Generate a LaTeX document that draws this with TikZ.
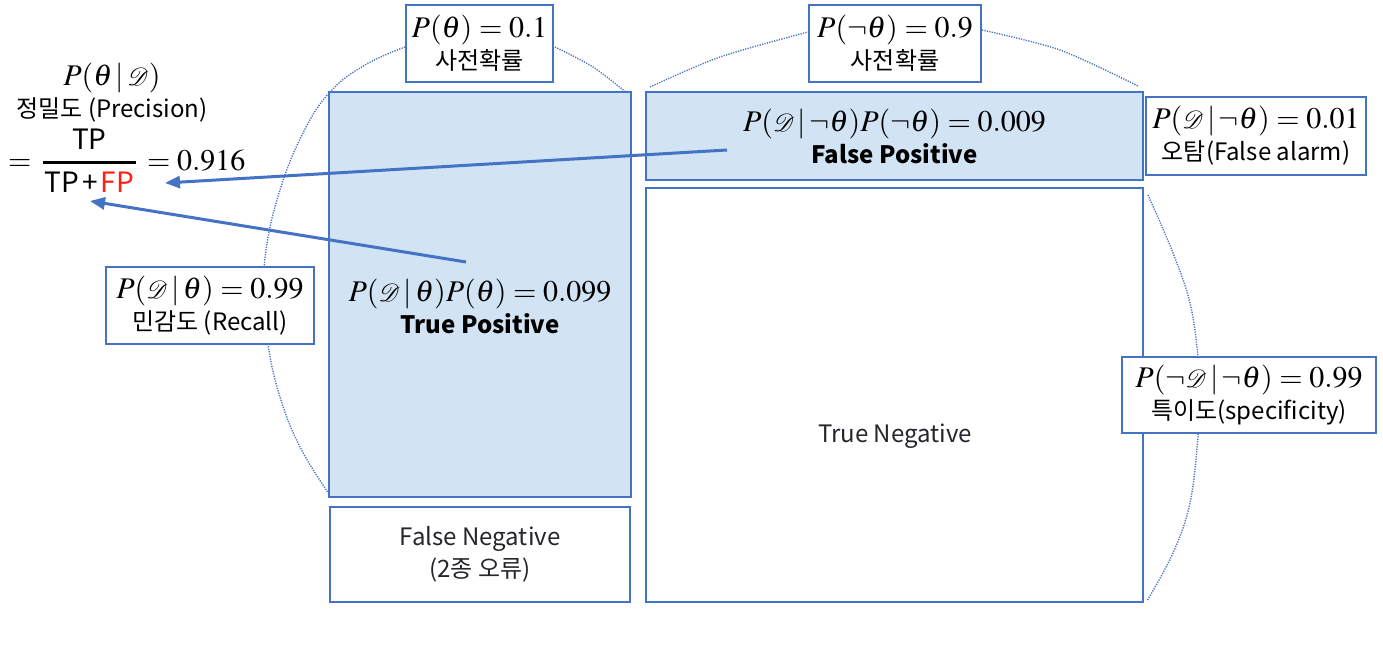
\documentclass[tikz,border=0pt]{standalone}
\usepackage{mathptmx}
\usepackage{mathrsfs}
\usepackage[no-math]{fontspec}
\setmainfont{Noto Sans CJK KR}
\usetikzlibrary{arrows.meta}
\definecolor{obl}{RGB}{68,114,196}
\definecolor{lfill}{RGB}{210,227,243}
\definecolor{fpred}{RGB}{255,30,20}
\definecolor{txtd}{RGB}{40,35,45}
\newcommand{\DD}{\mathscr{D}}
\newcommand{\mfont}{\fontsize{30}{32}\selectfont}
\newcommand{\sfont}{\fontsize{24}{32}\selectfont}
\newcommand{\ffont}{\fontsize{28}{30}\selectfont}
\begin{document}
\begin{tikzpicture}[x=1pt,y=-1pt,
  bx/.style={draw=obl, line width=1.2pt, fill=white, inner sep=0pt, align=center, font=\sfont},
  bluebx/.style={bx, fill=lfill},
  txt/.style={inner sep=0pt, align=center, font=\sfont},
  arc/.style={draw=obl, line width=1.4pt, dash pattern=on 1.2pt off 1.3pt},
  arr/.style={draw=obl, line width=3pt, -{Triangle[length=15pt,width=12pt]}}]
\useasboundingbox (0,0) rectangle (1383,650);

% dotted outlines
\draw[arc] plot[smooth, tension=0.7] coordinates {(405,47) (365,65) (330,92) (303,133) (280,190) (266,250) (264,300) (268,345) (280,397) (300,447) (329,494)};
\draw[arc] plot[smooth] coordinates {(555,47) (593,67) (627,93)};
\draw[arc] plot[smooth] coordinates {(650,87) (720,57) (808,32)};
\draw[arc] plot[smooth] coordinates {(982,30) (1060,50) (1138,86)};
\draw[arc] plot[smooth, tension=0.6] coordinates {(1148,195) (1173,253) (1190,303) (1198,357) (1199,397) (1198,437) (1190,503) (1173,553) (1147,601)};

% boxes
\node[bx, minimum width=147pt, minimum height=77pt] (pt) at (479.5,43.5) {{\mfont $P(\theta)=0.1$}\\사전확률};
\node[bx, minimum width=172pt, minimum height=77pt] (pnt) at (895,43.5) {{\mfont $P(\neg\theta)=0.9$}\\사전확률};
\node[bluebx, minimum width=302pt, minimum height=405pt] (tp) at (480,294.5) {};
\node[txt] (tpt) at (480,306) {{\mfont $P(\DD\,|\,\theta)P(\theta)=0.099$}\\\textbf{True Positive}};
\node[bx, minimum width=300pt, minimum height=95pt] (fn) at (480,554.5) {\color{txtd}False Negative\\\color{txtd}(2종 오류)};
\node[bluebx, minimum width=497pt, minimum height=88pt] (fp) at (894.5,136) {{\mfont $P(\DD\,|\,\neg\theta)P(\neg\theta)=0.009$}\\\textbf{False Positive}};
\node[bx, minimum width=497pt, minimum height=414pt] (tn) at (894.5,395) {};
\node[txt, text=txtd] (tnt) at (895,436) {True Negative};
\node[bx, minimum width=220pt, minimum height=78pt] (fa) at (1256,136) {{\mfont $P(\DD\,|\,\neg\theta)=0.01$}\\오탐(False alarm)};
\node[bx, minimum width=208pt, minimum height=77pt] (rc) at (210,305.5) {{\mfont $P(\DD\,|\,\theta)=0.99$}\\민감도 (Recall)};
\node[bx, minimum width=254pt, minimum height=76pt] (sp) at (1249,395) {{\mfont $P(\neg\DD\,|\,\neg\theta)=0.99$}\\특이도(specificity)};

% precision
\node[txt] (ptd) at (112,78) {\mfont $P(\theta\,|\,\DD)$};
\node[txt] (prc) at (112,110) {정밀도 (Precision)};
\node[txt, anchor=west] (frm) at (8,161) {\mfont $=\,\displaystyle{\mbox{\ffont TP}\above 2.8pt \mbox{\ffont\kern2pt TP\kern3pt+\kern3pt\textcolor{fpred}{FP}\kern2pt}}\,=0.916$};

% arrows
\coordinate (a1s) at (727,150);
\coordinate (a1e) at (165,183);
\coordinate (a2s) at (466,262);
\coordinate (a2e) at (90,201);
\draw[arr] (a1s) -- (a1e);
\draw[arr] (a2s) -- (a2e);
\end{tikzpicture}
\end{document}
